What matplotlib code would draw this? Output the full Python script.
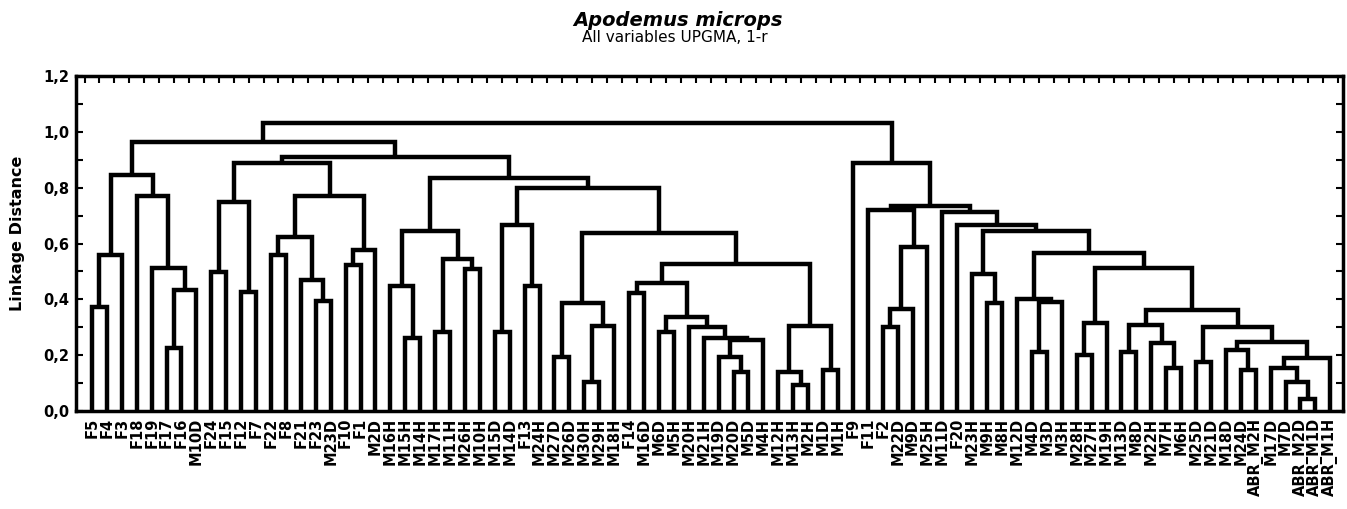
import numpy as np
import matplotlib
matplotlib.use("Agg")
import matplotlib.pyplot as plt
from matplotlib.ticker import MultipleLocator, FixedLocator

plt.rcParams['font.family'] = ['DejaVu Sans']

# leaf order, left to right
labels = ["F5", "F4", "F3", "F18", "F19", "F17", "F16", "M10D",
          "F24", "F15", "F12", "F7", "F22", "F8", "F21", "F23", "M23D", "F10", "F1", "M2D",
          "M16H", "M15H", "M14H", "M17H", "M11H", "M26H", "M10H", "M15D", "M14D", "F13", "M24H",
          "M27D", "M26D", "M30H", "M29H", "M18H",
          "F14", "M16D", "M6D", "M5H", "M20H", "M21H", "M19D", "M20D", "M5D", "M4H",
          "M12H", "M13H", "M2H", "M1D", "M1H",
          "F9", "F11", "F2", "M22D", "M9D", "M25H", "M11D", "F20", "M23H", "M9H", "M8H",
          "M12D", "M4D", "M3D", "M3H", "M28H", "M27H", "M19H", "M13D", "M8D", "M22H", "M7H", "M6H",
          "M25D", "M21D", "M18D", "M24D", "ABR_M2H", "M17D", "M7D", "ABR_M2D", "ABR_M1D", "ABR_M1H"]

# merges: (a, b, linkage distance); a/b are leaf labels or index of an earlier merge
merges = [
    ("F5", "F4", 0.374), (0, "F3", 0.559), ("F17", "F16", 0.225), (2, "M10D", 0.434),
    ("F19", 3, 0.511), ("F18", 4, 0.771), (1, 5, 0.846),
    ("F24", "F15", 0.499), ("F12", "F7", 0.428), (7, 8, 0.750),
    ("F22", "F8", 0.559), ("F23", "M23D", 0.395), ("F21", 11, 0.470), (10, 12, 0.625),
    ("F10", "F1", 0.523), (14, "M2D", 0.575), (13, 15, 0.770), (9, 16, 0.888),
    ("M15H", "M14H", 0.260), ("M16H", 18, 0.446), ("M17H", "M11H", 0.284),
    ("M26H", "M10H", 0.508), (20, 21, 0.545), (19, 22, 0.646),
    ("M15D", "M14D", 0.284), ("F13", "M24H", 0.446), (24, 25, 0.667),
    ("M27D", "M26D", 0.192), ("M30H", "M29H", 0.105), (28, "M18H", 0.305), (27, 29, 0.388),
    ("F14", "M16D", 0.424), ("M6D", "M5H", 0.284), ("M20D", "M5D", 0.141),
    ("M19D", 33, 0.195), (34, "M4H", 0.254), ("M21H", 35, 0.260), ("M20H", 36, 0.300),
    (32, 37, 0.338), (31, 38, 0.458),
    ("M13H", "M2H", 0.093), ("M12H", 40, 0.141), ("M1D", "M1H", 0.147), (41, 42, 0.305),
    (39, 43, 0.527), (30, 44, 0.639), (26, 45, 0.800), (23, 46, 0.834), (17, 47, 0.911),
    (6, 48, 0.963),
    ("F2", "M22D", 0.302), (50, "M9D", 0.364), (51, "M25H", 0.589), ("F11", 52, 0.720),
    ("M9H", "M8H", 0.386), ("M23H", 54, 0.491),
    ("M4D", "M3D", 0.212), (56, "M3H", 0.392), ("M12D", 57, 0.402),
    ("M28H", "M27H", 0.200), (59, "M19H", 0.314),
    ("M13D", "M8D", 0.212), ("M7H", "M6H", 0.155), ("M22H", 62, 0.243), (61, 63, 0.308),
    ("M25D", "M21D", 0.177), ("M24D", "ABR_M2H", 0.147), ("M18D", 66, 0.219),
    ("ABR_M2D", "ABR_M1D", 0.042), ("M7D", 68, 0.105), ("M17D", 69, 0.153),
    (70, "ABR_M1H", 0.189), (67, 71, 0.248), (65, 72, 0.302), (64, 73, 0.362),
    (60, 74, 0.511), (58, 75, 0.567), (55, 76, 0.643), ("F20", 77, 0.667),
    ("M11D", 78, 0.714), (53, 79, 0.735), ("F9", 80, 0.888),
    (49, 81, 1.031),
]

yticks = [0.0, 0.2, 0.4, 0.6, 0.8, 1.0, 1.2]

pos = {name: i for i, name in enumerate(labels)}
node_x, node_h = [], []


def coord(ref):
    if isinstance(ref, str):
        return pos[ref], 0.0
    return node_x[ref], node_h[ref]


fig = plt.figure(figsize=(13.47, 5.09), dpi=100)
ax = fig.add_axes([76 / 1347, 98 / 509, 1267 / 1347, 335 / 509])

for a, b, h in merges:
    xa, ha = coord(a)
    xb, hb = coord(b)
    ax.plot([xa, xa, xb, xb], [ha, h, h, hb], color='black', lw=3.2,
            solid_joinstyle='miter', solid_capstyle='butt')
    node_x.append((xa + xb) / 2)
    node_h.append(h)

ax.set_xlim(-1.07, 83.85)
ax.set_ylim(0, 1.2)

ax.set_xticks(range(len(labels)))
ax.set_xticklabels(labels, rotation=90, fontsize=10.5, fontweight='bold')
ax.xaxis.set_minor_locator(FixedLocator(np.arange(-0.5, len(labels), 1)))
ax.tick_params(axis='x', which='major', length=0, pad=5, top=False)
ax.tick_params(axis='x', which='minor', top=True, bottom=False, direction='in',
               length=5, width=1.5)

ax.set_yticks(yticks)
ax.set_yticklabels([f"{v:.1f}".replace('.', ',') for v in yticks],
                   fontsize=10.5, fontweight='bold')
ax.yaxis.set_minor_locator(MultipleLocator(0.1))
ax.tick_params(axis='y', which='both', direction='in', right=True,
               length=5, width=1.5, pad=5)

for sp in ax.spines.values():
    sp.set_linewidth(2.5)

fig.text(0.503, 1 - 20 / 509, "Apodemus microps", ha='center', va='center',
         fontsize=14, fontweight='bold', style='italic')
fig.text(0.501, 1 - 38 / 509, "All variables UPGMA, 1-r", ha='center', va='center',
         fontsize=11)
fig.text(17.5 / 1347, 1 - 233 / 509, "Linkage Distance", rotation=90,
         ha='center', va='center', fontsize=11.5, fontweight='bold')

fig.savefig("out.png", dpi=100)
